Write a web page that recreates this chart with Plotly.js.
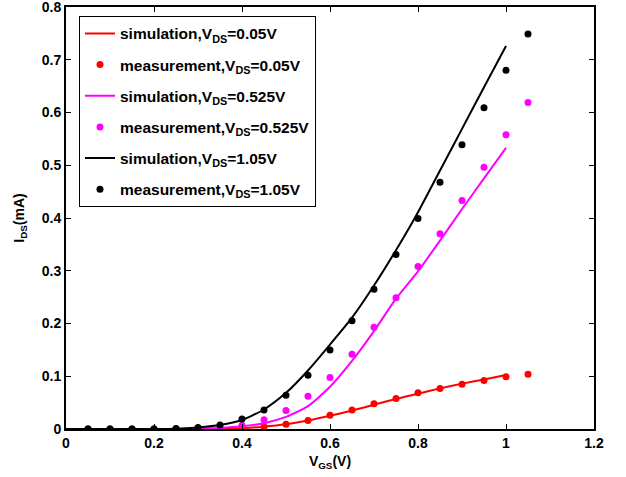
<!DOCTYPE html>
<html>
<head>
<meta charset="utf-8">
<script src="https://cdn.plot.ly/plotly-3.0.1.min.js"></script>
<style>html,body{margin:0;padding:0;background:#fff;}#chart{width:626px;height:477px;}</style>
</head>
<body>
<div id="chart"></div>
<script>
// Simulation curves (V_GS in V, I_DS in mA)
var simX = [0, 0.05, 0.1, 0.15, 0.2, 0.25, 0.3, 0.35, 0.4, 0.45, 0.5, 0.55, 0.6, 0.65, 0.7, 0.75, 0.8, 0.85, 0.9, 0.95, 1.0];
var simLow  = [0, 0, 0, 0, 0, 0, 0.0002, 0.0006, 0.0016, 0.0045, 0.009, 0.016, 0.025, 0.035, 0.046, 0.057, 0.067, 0.077, 0.086, 0.094, 0.1025];
var simMid  = [0, 0, 0, 0, 0, 0.0002, 0.0008, 0.002, 0.005, 0.011, 0.023, 0.0434, 0.080, 0.129, 0.1855, 0.247, 0.299, 0.357, 0.417, 0.475, 0.533];
var simHigh = [0, 0, 0, 0, 0, 0.0005, 0.003, 0.0075, 0.017, 0.037, 0.0685, 0.111, 0.160, 0.211, 0.272, 0.339, 0.411, 0.490, 0.569, 0.648, 0.726];

// Measurements
var measX = [0.05, 0.1, 0.15, 0.2, 0.25, 0.3, 0.35, 0.4, 0.45, 0.5, 0.55, 0.6, 0.65, 0.7, 0.75, 0.8, 0.85, 0.9, 0.95, 1.0, 1.05];
var measLow  = [0, 0, 0, 0, 0, 0, 0.0005, 0.0015, 0.0045, 0.009, 0.016, 0.026, 0.036, 0.048, 0.058, 0.0685, 0.077, 0.085, 0.092, 0.099, 0.104];
var measMid  = [0, 0, 0, 0, 0, 0.001, 0.002, 0.007, 0.0175, 0.035, 0.062, 0.0975, 0.1415, 0.193, 0.249, 0.308, 0.370, 0.433, 0.496, 0.558, 0.619];
var measHigh = [0, 0, 0, 0, 0.001, 0.003, 0.0075, 0.019, 0.036, 0.064, 0.102, 0.150, 0.205, 0.265, 0.331, 0.399, 0.468, 0.539, 0.609, 0.680, 0.749];

var names = [
  '<b>simulation,V<sub>DS</sub>=0.05V</b>',
  '<b>measurement,V<sub>DS</sub>=0.05V</b>',
  '<b>simulation,V<sub>DS</sub>=0.525V</b>',
  '<b>measurement,V<sub>DS</sub>=0.525V</b>',
  '<b>simulation,V<sub>DS</sub>=1.05V</b>',
  '<b>measurement,V<sub>DS</sub>=1.05V</b>'
];
var xTicks = [0, 0.2, 0.4, 0.6, 0.8, 1, 1.2];
var xTickText = ['0', '0.2', '0.4', '0.6', '0.8', '1', '1.2'];
var yTicks = [0, 0.1, 0.2, 0.3, 0.4, 0.5, 0.6, 0.7, 0.8];
var yTickText = ['0', '0.1', '0.2', '0.3', '0.4', '0.5', '0.6', '0.7', '0.8'];
function bold(a) { return a.map(function (s) { return '<b>' + s + '</b>'; }); }

var RED = '#ff0000', MAG = '#ff00ff', BLK = '#000000';
function sim(y, c, n, g) {
  return {x: simX, y: y, mode: 'lines', name: n, legendgroup: g,
          line: {color: c, width: 2, shape: 'spline', smoothing: 0.6}};
}
function meas(y, c, n, g) {
  return {x: measX, y: y, mode: 'markers', name: n, legendgroup: g,
          marker: {color: c, size: 7}};
}
var data = [
  sim(simLow, RED, names[0], 'a'),
  meas(measLow, RED, names[1], 'b'),
  sim(simMid, MAG, names[2], 'c'),
  meas(measMid, MAG, names[3], 'd'),
  sim(simHigh, BLK, names[4], 'e'),
  meas(measHigh, BLK, names[5], 'f')
];

var fontBase = {family: 'Liberation Sans, Arial, sans-serif', size: 14, color: '#000'};
var axisCommon = {
  showgrid: false, zeroline: false, showline: true, linecolor: '#000', linewidth: 2,
  mirror: 'ticks', ticks: 'inside', ticklen: 5, tickwidth: 1, tickcolor: '#000',
  tickfont: fontBase, ticklabeloverflow: 'allow', automargin: false
};
var layout = {
  width: 626, height: 477,
  margin: {l: 66, r: 32, t: 7, b: 48},
  paper_bgcolor: '#fff', plot_bgcolor: '#fff',
  font: fontBase,
  showlegend: true,
  legend: {
    x: 0.0246, y: 0.979, xanchor: 'left', yanchor: 'top',
    bgcolor: '#fff', bordercolor: '#000', borderwidth: 1,
    font: {family: 'Liberation Sans, Arial, sans-serif', size: 15.5, color: '#000'},
    tracegroupgap: 8, traceorder: 'grouped'
  },
  xaxis: Object.assign({}, axisCommon, {
    range: [0, 1.2], tickvals: xTicks, ticktext: bold(xTickText),
    title: {text: '<b>V<sub>GS</sub>(V)</b>', font: fontBase, standoff: 6}
  }),
  yaxis: Object.assign({}, axisCommon, {
    range: [0, 0.8], tickvals: yTicks, ticktext: bold(yTickText),
    title: {text: '<b>I<sub>DS</sub>(mA)</b>', font: fontBase, standoff: 14}
  })
};
Plotly.newPlot('chart', data, layout, {displayModeBar: false, staticPlot: true});
</script>
</body>
</html>
